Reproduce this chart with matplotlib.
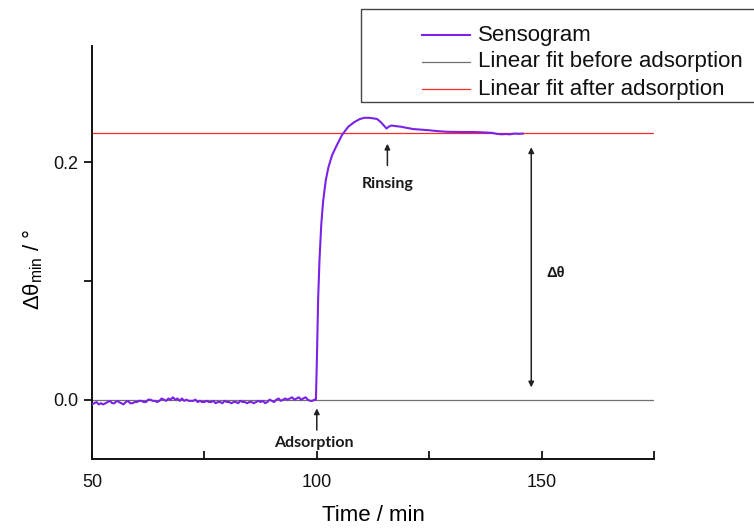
import matplotlib
matplotlib.use("Agg")
import matplotlib.pyplot as plt
from matplotlib.lines import Line2D
from matplotlib.patches import Rectangle

# --- data ---
time_base = [50 + 0.5 * i for i in range(100)]
theta_base = [-0.004, -0.003, -0.002, -0.004, -0.003, -0.004, -0.003, -0.002, -0.001, -0.003,
              -0.003, -0.001, -0.002, -0.003, -0.004, -0.002, -0.001, -0.003, -0.003, -0.002,
              -0.002, -0.001, -0.001, -0.002, -0.002, 0.000, 0.000, -0.001, -0.001, -0.002,
              -0.001, 0.001, 0.000, -0.001, 0.001, 0.000, 0.002, 0.000, 0.001, -0.001,
              0.001, -0.001, 0.000, -0.001, -0.001, -0.001, 0.000, -0.002, -0.001, -0.002,
              -0.002, -0.001, -0.002, -0.002, -0.001, -0.003, -0.002, -0.002, -0.003, -0.001,
              -0.002, -0.002, -0.003, -0.002, -0.002, -0.003, -0.001, -0.002, -0.002, -0.003,
              -0.002, -0.002, -0.003, -0.002, -0.001, -0.002, -0.001, -0.003, -0.002, 0.000,
              -0.001, -0.002, 0.000, 0.001, -0.001, 0.000, 0.001, 0.000, 0.001, 0.002,
              0.000, 0.001, 0.002, 0.000, 0.001, 0.002, 0.000, -0.001, -0.001, 0.000]
time_rise = [99.8, 100.0, 100.3, 100.6, 101.0, 101.4, 102.0, 102.6, 103.4, 104.4, 105.6, 107.0,
             108.4, 109.6, 110.6, 111.6, 112.6, 113.4, 114.2, 114.9, 115.5, 116.0, 116.6,
             117.5, 118.7, 120.0, 121.5, 123.2, 125.0, 127.0, 129.0, 131.0, 133.0, 135.0,
             137.0, 139.0, 140.0, 141.0, 142.0, 143.0, 144.0, 145.0, 145.8]
theta_rise = [0.000, 0.030, 0.085, 0.118, 0.148, 0.167, 0.185, 0.196, 0.206, 0.214, 0.223, 0.230,
              0.234, 0.2365, 0.2375, 0.2375, 0.237, 0.2365, 0.234, 0.231, 0.2285, 0.230, 0.231,
              0.2305, 0.230, 0.229, 0.228, 0.2275, 0.227, 0.2262, 0.2257, 0.2256, 0.2255, 0.2255,
              0.2252, 0.2248, 0.2240, 0.2236, 0.2238, 0.2236, 0.2242, 0.2240, 0.2242]
time_min = time_base + time_rise
delta_theta = theta_base + theta_rise

fit_before = 0.0
fit_after = 0.2245

x_ticks_major = [50, 100, 150]
x_ticks_minor = [75, 125, 175]
y_ticks_major = [0.0, 0.2]
y_ticks_minor = [0.1]
legend_labels = ['Sensogram', 'Linear fit before adsorption', 'Linear fit after adsorption']

plt.rcParams['font.family'] = ['Liberation Sans', 'DejaVu Sans']
plt.rcParams['mathtext.fontset'] = 'custom'
plt.rcParams['mathtext.rm'] = 'Liberation Sans'
plt.rcParams['mathtext.it'] = 'Liberation Sans:italic'

W, H = 754, 529
fig = plt.figure(figsize=(W / 100, H / 100), dpi=100)
ax = fig.add_axes([92 / W, 1 - 459 / H, (654 - 92) / W, (459 - 46) / H])

purple = '#7a22e6'
gray = '#707070'
red = '#ff2a2a'
l1, = ax.plot(time_min, delta_theta, color=purple, lw=1.5, zorder=3)
l2, = ax.plot([50, 175], [fit_before, fit_before], color=gray, lw=0.9, zorder=2)
l3, = ax.plot([50, 175], [fit_after, fit_after], color=red, lw=0.9, zorder=2)

ax.set_xlim(50, 175)
ax.set_ylim(-0.05, 0.298)
ax.set_xticks(x_ticks_major)
ax.set_xticks(x_ticks_minor, minor=True)
ax.set_yticks(y_ticks_major)
ax.set_yticks(y_ticks_minor, minor=True)
ax.set_xticklabels([str(v) for v in x_ticks_major])
ax.set_yticklabels(['%.1f' % v for v in y_ticks_major])

for s in ['top', 'right']:
    ax.spines[s].set_visible(False)
for s in ['left', 'bottom']:
    ax.spines[s].set_linewidth(1.4)
    ax.spines[s].set_color('#111111')

ax.tick_params(axis='x', which='both', direction='in', length=6, width=1.3,
               labelsize=13, pad=11, colors='#111111')
ax.tick_params(axis='y', which='both', direction='out', length=6, width=1.3,
               labelsize=13, pad=4, colors='#111111')

ax.set_xlabel('Time / min', fontsize=16, labelpad=10)
ax.set_ylabel('Δθ$_{\\mathrm{min}}$ / °', fontsize=16)
ax.yaxis.set_label_coords(-0.083, 0.46)

# annotations
bold = dict(fontsize=11.5, fontweight='bold', family=['Lato', 'DejaVu Sans'], color='#1a1a1a')
arrow = dict(arrowstyle='-|>', color='#222222', lw=1.1, mutation_scale=8)
ax.annotate('', xy=(100, -0.005), xytext=(100, -0.028), arrowprops=arrow)
ax.text(99.3, -0.0365, 'Adsorption', ha='center', va='center', **bold)

ax.annotate('', xy=(115.7, 0.218), xytext=(115.7, 0.195), arrowprops=arrow)
ax.text(115.7, 0.182, 'Rinsing', ha='center', va='center', **bold)

ax.annotate('', xy=(147.7, 0.215), xytext=(147.7, 0.008),
            arrowprops=dict(arrowstyle='<|-|>', color='#222222', lw=1.1, mutation_scale=8))
ax.text(153.2, 0.107, 'Δθ', ha='center', va='center', fontsize=10.5,
        fontweight='bold', color='#1a1a1a')

# legend (frame extends past the right edge, as in the reference)
fig.add_artist(Rectangle((361 / W, 1 - 102 / H), (W + 10 - 361) / W, 93 / H,
                         transform=fig.transFigure, fill=False,
                         edgecolor='#444444', lw=1.0, clip_on=False))
rows_y = [35, 62, 89]
for line, lab, yy in zip([l1, l2, l3], legend_labels, rows_y):
    yf = 1 - yy / H
    fig.add_artist(Line2D([422 / W, 470 / W], [yf, yf], transform=fig.transFigure,
                          color=line.get_color(), lw=line.get_linewidth()))
    fig.text(478 / W, yf, lab, fontsize=16, va='center', ha='left', color='#111111')

fig.savefig('out.png', dpi=100)
